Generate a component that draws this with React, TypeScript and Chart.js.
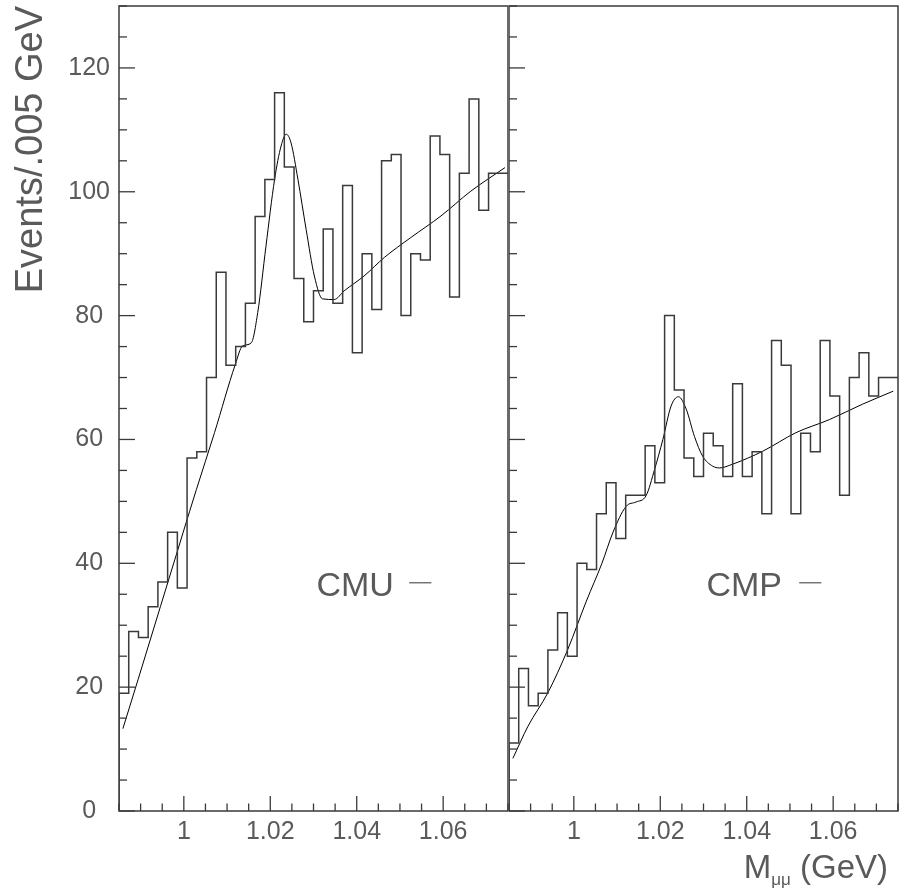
import React, { useEffect, useRef } from 'react';
import { Chart, registerables } from 'chart.js';

Chart.register(...registerables);

// ---------- data ----------
const BIN_LOW = 0.985; // GeV, low edge of first bin
const BIN_WIDTH = 0.00225; // GeV
const X_MIN = 0.985;
const X_MAX = 1.075;
const Y_MIN = 0;
const Y_MAX = 130;

const cmuCounts = [
  0, 19, 29, 28, 33, 37, 45, 36, 57, 58,
  70, 87, 72, 75, 82, 96, 102, 116, 104, 86,
  79, 84, 94, 82, 101, 74, 90, 81, 105, 106,
  80, 90, 89, 109, 106, 83, 103, 115, 97, 103,
];

const cmpCounts = [
  0, 11, 23, 17, 19, 26, 32, 25, 40, 39,
  48, 53, 44, 51, 51, 59, 53, 80, 68, 57,
  54, 61, 59, 54, 69, 54, 58, 48, 76, 72,
  48, 61, 58, 76, 67, 51, 70, 74, 67, 70,
];

const cmuFitMass = [
  0.9859, 0.9894, 0.9998, 1.0029, 1.0071, 1.0119, 1.0136, 1.0156, 1.0171, 1.019,
  1.021, 1.0225, 1.0237, 1.0248, 1.0264, 1.0283, 1.0302, 1.0321, 1.0348, 1.0371,
  1.0417, 1.0464, 1.0525, 1.0595, 1.0664, 1.0743,
];
const cmuFitValue = [
  13.3, 21.2, 44.9, 51.9, 61.1, 72.1, 75.1, 75.6, 80.5, 91.2,
  102, 107.4, 109.3, 107.9, 102, 93.9, 86.4, 82.7, 82.6, 84.0,
  86.4, 89.4, 92.6, 96.1, 100.1, 103.9,
];

const cmpFitMass = [
  0.9859, 0.9894, 0.994, 0.9986, 1.0029, 1.0065, 1.009, 1.0121, 1.0144, 1.0167,
  1.0187, 1.0206, 1.0225, 1.0242, 1.026, 1.0279, 1.0298, 1.0321, 1.0337, 1.0367,
  1.0437, 1.0514, 1.0591, 1.0668, 1.0739,
];
const cmpFitValue = [
  8.5, 13.7, 19.1, 26.1, 33.9, 40.0, 44.9, 49.2, 49.9, 50.9,
  55.2, 60.0, 65.4, 66.9, 64.9, 60.5, 57.3, 55.7, 55.4, 56.0,
  58.1, 61.1, 63.2, 65.7, 67.8,
];

const xTickLabels = [1, 1.02, 1.04, 1.06];
const yTickLabels = [0, 20, 40, 60, 80, 100, 120];
const X_MINOR_STEP = 0.005;
const Y_MINOR_STEP = 5;

// ---------- helpers ----------
const FONT = '"Liberation Sans", Arial, sans-serif';
const TEXT_COLOR = '#5a5a5a';
const LINE_COLOR = '#3a3a3a';

const isXLabel = (v: number) => xTickLabels.some((t) => Math.abs(t - v) < 1e-6);
const isYLabel = (v: number) => yTickLabels.some((t) => Math.abs(t - v) < 1e-6);

function histPoints(counts: number[]) {
  const pts = counts.map((c, i) => ({ x: BIN_LOW + i * BIN_WIDTH, y: c }));
  pts.push({ x: BIN_LOW + counts.length * BIN_WIDTH, y: counts[counts.length - 1] });
  return pts;
}

function fitPoints(mass: number[], value: number[]) {
  return mass.map((m, i) => ({ x: m, y: value[i] }));
}

const decorPlugin = {
  id: 'panelDecor',
  afterDraw(chart: any, _args: any, opts: any) {
    const { ctx, chartArea: a, scales } = chart;
    const xs = scales.x;
    const ys = scales.y;
    ctx.save();
    ctx.strokeStyle = LINE_COLOR;
    ctx.lineWidth = 1.3;
    // inward x ticks
    xs.ticks.forEach((t: any) => {
      const px = xs.getPixelForValue(t.value);
      const len = isXLabel(t.value) ? 15 : 7.5;
      ctx.beginPath();
      ctx.moveTo(px, a.bottom);
      ctx.lineTo(px, a.bottom - len);
      ctx.stroke();
    });
    // inward y ticks
    ys.ticks.forEach((t: any) => {
      const py = ys.getPixelForValue(t.value);
      const len = isYLabel(t.value) ? 16 : 8;
      ctx.beginPath();
      ctx.moveTo(a.left, py);
      ctx.lineTo(a.left + len, py);
      ctx.stroke();
    });
    // frame
    ctx.lineWidth = 1.5;
    ctx.strokeRect(a.left, a.top, a.right - a.left, a.bottom - a.top);

    // panel label
    const w = a.right - a.left;
    const h = a.bottom - a.top;
    ctx.fillStyle = TEXT_COLOR;
    ctx.font = `34px ${FONT}`;
    ctx.textBaseline = 'alphabetic';
    ctx.textAlign = 'left';
    ctx.fillText(opts.label, a.left + 0.5075 * w, a.top + 0.733 * h);
    ctx.strokeStyle = '#555';
    ctx.lineWidth = 1.2;
    ctx.beginPath();
    const dy = a.top + 0.7165 * h;
    ctx.moveTo(a.left + 0.746 * w, dy);
    ctx.lineTo(a.left + 0.803 * w, dy);
    ctx.stroke();

    if (opts.xTitle) {
      const big = `33px ${FONT}`;
      const small = `17px ${FONT}`;
      ctx.font = big;
      const wM = ctx.measureText('M').width;
      const wRest = ctx.measureText(' (GeV)').width;
      ctx.font = small;
      const wSub = ctx.measureText('\u03bc\u03bc').width;
      const endX = a.right - 10;
      let x = endX - (wM + wSub + wRest);
      const base = 878;
      ctx.font = big;
      ctx.fillText('M', x, base);
      x += wM;
      ctx.font = small;
      ctx.fillText('\u03bc\u03bc', x, base + 7);
      x += wSub;
      ctx.font = big;
      ctx.fillText(' (GeV)', x, base);
    }
    ctx.restore();
  },
};

function makeConfig(counts: number[], fitM: number[], fitV: number[], isLeft: boolean, label: string) {
  return {
    type: 'line',
    data: {
      datasets: [
        {
          label: label + ' data',
          data: histPoints(counts),
          stepped: 'after',
          borderColor: LINE_COLOR,
          borderWidth: 1.5,
          pointRadius: 0,
          fill: false,
        },
        {
          label: label + ' fit',
          data: fitPoints(fitM, fitV),
          borderColor: '#000000',
          borderWidth: 1,
          pointRadius: 0,
          fill: false,
          cubicInterpolationMode: 'monotone',
        },
      ],
    },
    options: {
      responsive: false,
      animation: false,
      events: [],
      layout: { padding: { top: 6, right: 1, left: 0, bottom: 0 } },
      plugins: {
        legend: { display: false },
        tooltip: { enabled: false },
        panelDecor: { label, xTitle: !isLeft },
      },
      scales: {
        x: {
          type: 'linear',
          min: X_MIN,
          max: X_MAX,
          grid: { display: false, drawTicks: false },
          border: { display: false },
          afterFit: (s: any) => {
            s.height = 81;
            s.paddingLeft = 0;
            s.paddingRight = 0;
          },
          ticks: {
            stepSize: X_MINOR_STEP,
            autoSkip: false,
            maxRotation: 0,
            padding: 6,
            color: TEXT_COLOR,
            font: { family: FONT, size: 25 },
            callback: (v: number) => (isXLabel(v) ? String(Math.round(v * 100) / 100) : ''),
          },
        },
        y: {
          type: 'linear',
          min: Y_MIN,
          max: Y_MAX,
          grid: { display: false, drawTicks: false },
          border: { display: false },
          afterFit: (s: any) => {
            s.width = isLeft ? 119 : 0;
            s.paddingTop = 0;
            s.paddingBottom = 0;
          },
          title: {
            display: isLeft,
            text: 'Events/.005 GeV',
            align: 'end',
            color: TEXT_COLOR,
            font: { family: FONT, size: 38 },
            padding: { top: 9, bottom: 0 },
          },
          ticks: {
            display: isLeft,
            stepSize: Y_MINOR_STEP,
            autoSkip: false,
            crossAlign: 'center',
            padding: 9,
            color: TEXT_COLOR,
            font: { family: FONT, size: 25 },
            callback: (v: number) => (isYLabel(v) ? String(v) : ''),
          },
        },
      },
    },
    plugins: [decorPlugin],
  };
}

export default function App() {
  const leftRef = useRef<HTMLCanvasElement>(null);
  const rightRef = useRef<HTMLCanvasElement>(null);

  useEffect(() => {
    const left = new Chart(leftRef.current as HTMLCanvasElement, makeConfig(cmuCounts, cmuFitMass, cmuFitValue, true, 'CMU') as any);
    const right = new Chart(rightRef.current as HTMLCanvasElement, makeConfig(cmpCounts, cmpFitMass, cmpFitValue, false, 'CMP') as any);
    return () => {
      left.destroy();
      right.destroy();
    };
  }, []);

  return (
    <div style={{ position: 'absolute', left: 0, top: 0, width: 899, height: 892, background: '#ffffff', overflow: 'hidden' }}>
      <canvas ref={leftRef} width={509} height={892} style={{ position: 'absolute', left: 0, top: 0, width: 509, height: 892 }} />
      <canvas ref={rightRef} width={390} height={892} style={{ position: 'absolute', left: 509, top: 0, width: 390, height: 892 }} />
    </div>
  );
}
